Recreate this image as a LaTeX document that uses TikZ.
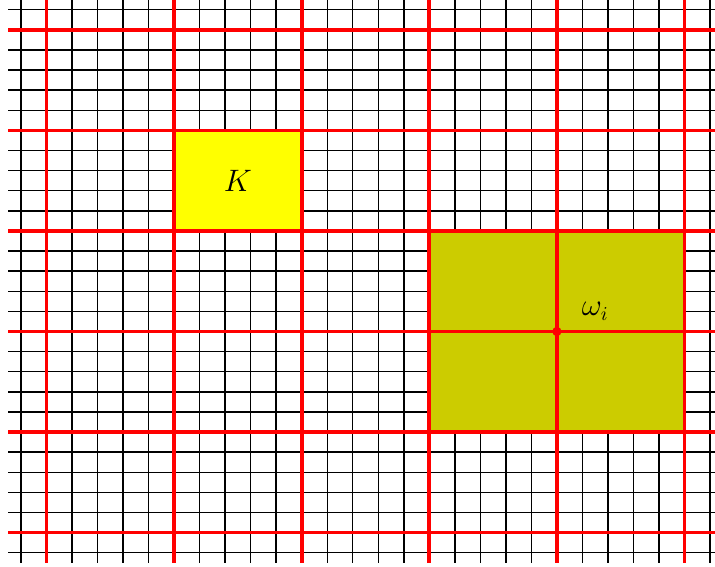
\documentclass[tikz,border=0pt]{standalone}
\usepackage{amsmath,amssymb}
\usepackage{tikz}
\usepackage{xcolor}
\definecolor{kyellow}{RGB}{255,255,0}
\definecolor{patcholive}{RGB}{204,204,0}
\definecolor{meshred}{RGB}{255,0,0}

\begin{document}
\begin{tikzpicture}[x=0.5cm,y=0.394cm,
  fine/.style={black,line width=0.8pt},
  coarse/.style={meshred,line width=2.1pt},
  lbl/.style={font=\fontsize{16}{19}\selectfont}]
\useasboundingbox (-0.823,-0.696) rectangle (27.195,27.485);
\clip (-0.823,-0.696) rectangle (27.195,27.485);
% fine mesh
\draw[fine,step=1] (-0.5,-0.5) grid (27.5,27.5);
% the set K and the patch omega_i
\fill[kyellow] (6,16) rectangle (11,21);
\fill[patcholive] (16,6) rectangle (26,16);
% coarse mesh
\foreach \k in {1,6,...,26} {
  \draw[coarse] (\k,-0.5) -- (\k,27.5);
  \draw[coarse] (-0.5,\k) -- (27.5,\k);
}
\coordinate (wi) at (21,11);
\fill[meshred] (wi) circle (2.6pt);
\node[lbl] (K) at (8.5,18.5) {$K$};
\node[lbl] (omega) at (22.5,12) {$\omega_i$};
\end{tikzpicture}
\end{document}
